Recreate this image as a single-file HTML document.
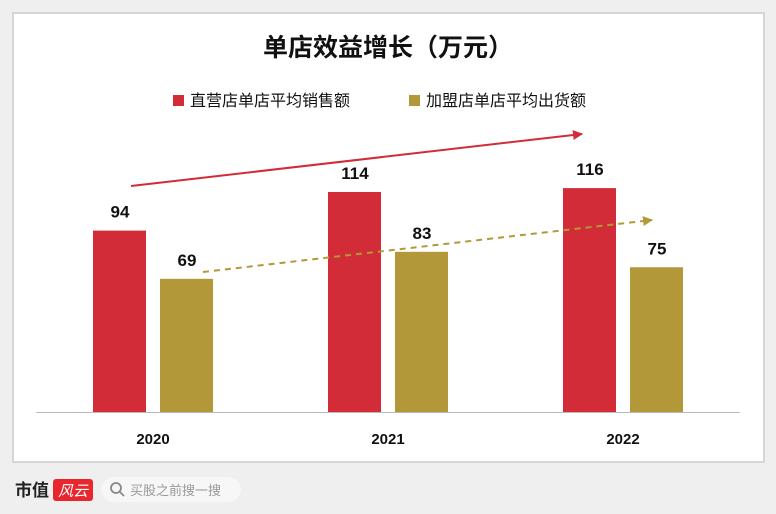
<!DOCTYPE html>
<html><head><meta charset="utf-8">
<style>
html,body{margin:0;padding:0;background:#efefef;width:776px;height:514px;overflow:hidden;font-family:"Liberation Sans","Noto Sans CJK SC",sans-serif;}
</style></head>
<body>
<svg width="776" height="514" xmlns="http://www.w3.org/2000/svg" id="chart">
<rect x="13" y="13" width="751" height="449" fill="#fff" stroke="#d6d6d6" stroke-width="2"/>
<text x="388" y="56" text-anchor="middle" font-size="25" font-weight="bold" fill="#111" font-family="Liberation Sans,Noto Sans CJK SC,sans-serif">单店效益增长（万元）</text>
<g>
<rect x="173" y="95" width="11" height="11" fill="#d12c37"/>
<text x="190" y="106" font-size="16" fill="#111" font-family="Liberation Sans,Noto Sans CJK SC,sans-serif">直营店单店平均销售额</text>
<rect x="409" y="95" width="11" height="11" fill="#b3983a"/>
<text x="426" y="106" font-size="16" fill="#111" font-family="Liberation Sans,Noto Sans CJK SC,sans-serif">加盟店单店平均出货额</text>
</g>
<defs>
<marker id="ar" markerWidth="10" markerHeight="10" refX="9" refY="5" orient="auto" markerUnits="userSpaceOnUse"><path d="M0,0 L10,5 L0,10 z" fill="#d12c37"/></marker>
<marker id="ag" markerWidth="10" markerHeight="10" refX="9" refY="5" orient="auto" markerUnits="userSpaceOnUse"><path d="M0,0 L10,5 L0,10 z" fill="#b3983a"/></marker>
</defs>
<line x1="36" y1="412.5" x2="740" y2="412.5" stroke="#bbb" stroke-width="1"/>
<g id="bars"></g>
<line x1="131" y1="186" x2="582" y2="134" stroke="#d12c37" stroke-width="2" marker-end="url(#ar)"/>
<line x1="203" y1="272" x2="652" y2="220" stroke="#b3983a" stroke-width="2" stroke-dasharray="6,5" marker-end="url(#ag)"/>
<g>
<text x="15" y="496" font-size="17" font-weight="bold" fill="#222" font-family="Liberation Sans,Noto Sans CJK SC,sans-serif">市值</text>
<rect x="53" y="479" width="40" height="22" rx="3" fill="#e8262e"/>
<text x="58" y="496" font-size="15" fill="#fff" font-style="italic" font-family="Noto Sans CJK SC,sans-serif">风云</text>
<rect x="101" y="477" width="140" height="25" rx="12.5" fill="#f7f7f7"/>
<circle cx="116" cy="488" r="5" fill="none" stroke="#888" stroke-width="1.8"/>
<line x1="120" y1="492" x2="124" y2="496" stroke="#888" stroke-width="1.8"/>
<text x="130" y="495" font-size="13" fill="#999" font-family="Liberation Sans,Noto Sans CJK SC,sans-serif">买股之前搜一搜</text>
</g>
</svg>
<script>
const categories=["2020","2021","2022"];
const directValues=[94,114,116];
const franchiseValues=[69,83,75];
const ns="http://www.w3.org/2000/svg";
const g=document.getElementById('bars');
const base=412, scale=1.93;
function y(v){return base-v*scale;}
function xc(i){return 153+i*235;}
function mk(tag,attrs){const e=document.createElementNS(ns,tag);for(const k in attrs)e.setAttribute(k,attrs[k]);g.appendChild(e);return e;}
categories.forEach((c,i)=>{
  const cx=xc(i);
  const r=mk('rect',{x:cx-60,y:y(directValues[i]),width:53,height:directValues[i]*scale,fill:'#d12c37'});
  
  
  const f=mk('rect',{x:cx+7,y:y(franchiseValues[i]),width:53,height:franchiseValues[i]*scale,fill:'#b3983a'});
  
  
  const t1=mk('text',{x:cx-33,y:y(directValues[i])-13,'text-anchor':'middle','font-size':17,'font-weight':'bold',fill:'#111'});
  t1.textContent=directValues[i];
  
  
  const t2=mk('text',{x:cx+34,y:y(franchiseValues[i])-13,'text-anchor':'middle','font-size':17,'font-weight':'bold',fill:'#111'});
  t2.textContent=franchiseValues[i];
  
  
  const xl=mk('text',{x:cx,y:444,'text-anchor':'middle','font-size':15,'font-weight':'bold',fill:'#111'});
  xl.textContent=c;
  
  
});
</script>
</body></html>
